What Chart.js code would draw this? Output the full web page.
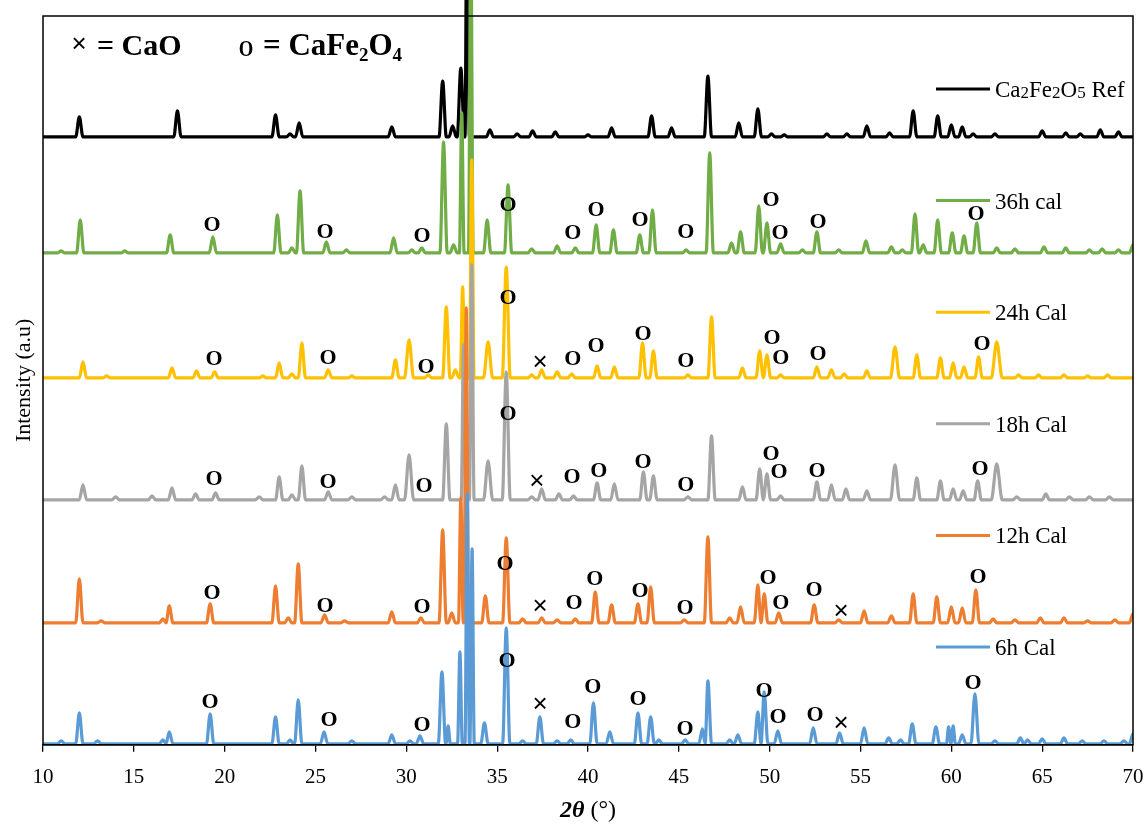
<!DOCTYPE html>
<html lang="en">
<head>
<meta charset="UTF-8">
<title>XRD patterns - calcination time series</title>
<style>
    html, body { margin: 0; padding: 0; background: #fff; }
    #wrap { width: 1148px; height: 826px; }
</style>
</head>
<body>
<div id="wrap"><canvas id="xrdChart" width="1148" height="826"></canvas></div>

<script src="https://cdn.jsdelivr.net/npm/chart.js@4.4.1/dist/chart.umd.min.js"></script>
<script>
    // 2theta axis
    var xMin = 10, xMax = 70, xStep = 5;
    var yMax = 729;

    var seriesNames = ['Ca\u2082Fe\u2082O\u2085 Ref', '36h cal', '24h Cal', '18h Cal', '12h Cal', '6h Cal'];
    var seriesColors = ['#000000', '#70AD47', '#FFC000', '#A5A5A5', '#ED7D31', '#5B9BD5'];
    // vertical offset of each pattern (stacked plot)
    var baselines = [608, 492, 367, 245, 122, 1];

    // peaks: [2theta, intensity above baseline, half width (optional)]
    var refPeaks = [[12.0,20],[17.4,26],[22.8,22],[23.6,3],[24.1,14],[29.2,10],[32.0,56],[32.55,11],[33.0,69],[33.35,300,0.12],
        [34.6,7],[36.1,3],[36.95,6],[38.2,5],[40.0,2],[41.3,9],[43.5,21],[44.6,9],[46.6,61],[48.3,14],[49.35,28],[50.1,3],
        [50.8,2],[53.15,3],[54.25,3],[55.35,11],[56.6,4],[57.9,26],[59.25,21],[60.0,12],[60.6,10],[61.2,3],[62.4,3],
        [65.0,6],[66.3,4],[67.1,3],[68.2,7],[69.2,5]];
    var peaks36h = [[11.0,2],[12.05,33],[14.5,2],[17.0,18],[19.35,16],[22.9,38],[23.7,5],[24.15,62],[25.6,11],[26.7,3],
        [29.3,15],[30.3,3],[30.85,5],[32.05,111],[32.6,8],[33.05,140,0.13],[33.55,320,0.13],[34.45,33],[35.6,68],[36.9,4],
        [38.3,7],[39.3,5],[40.45,28],[41.4,23],[42.85,18],[43.55,43],[45.4,3],[46.7,100],[47.9,10],[48.4,21],[49.4,47],
        [49.85,30],[50.6,9],[51.8,3],[52.6,21],[53.8,3],[55.3,12],[56.7,6],[57.3,3],[58.0,39],[58.45,8],[59.25,33],
        [60.05,20],[60.7,17],[61.4,30],[62.5,5],[63.5,4],[65.1,6],[66.3,5],[67.6,3],[68.3,4],[69.2,3],[70.0,8]];
    var peaks24h = [[12.2,16],[13.5,2],[17.1,10],[18.45,7],[19.45,6],[22.1,2],[23.0,15],[23.7,4],[24.25,35],[25.7,8],
        [27.0,2],[29.4,18],[30.15,38,0.25],[31.2,3],[32.2,71],[32.7,8],[33.1,91,0.13],[33.6,218,0.13],[34.5,36,0.25],
        [35.5,111,0.22],[36.9,3],[37.45,8],[38.3,6],[39.1,4],[40.5,12],[41.45,11],[43.0,35],[43.6,27],[45.5,3],
        [46.8,61],[48.5,10],[49.45,27],[49.85,23],[50.6,3],[52.6,11],[53.4,8],[54.1,4],[55.35,7],[56.9,31,0.25],
        [58.1,23],[59.4,20],[60.1,15],[60.7,11],[61.5,21],[62.5,36,0.3],[63.7,3],[64.8,3],[66.2,3],[67.5,2],[68.6,3]];
    var peaks18h = [[12.2,15],[14.0,3],[16.0,4],[17.1,12],[18.4,6],[19.5,7],[21.9,3],[23.0,23],[23.7,5],[24.25,34],
        [25.7,8],[27.0,3],[28.8,3],[29.4,15],[30.15,45,0.25],[32.2,76],[33.15,155,0.13],[33.6,235,0.13],[34.5,39,0.25],
        [35.5,128,0.22],[36.9,3],[37.45,11],[38.4,6],[39.2,4],[40.5,17],[41.45,16],[43.05,28],[43.6,24],[45.5,3],
        [46.8,64],[48.5,13],[49.45,31],[49.85,26],[50.6,4],[52.6,18],[53.4,15],[54.2,11],[55.35,9],[56.9,35,0.25],
        [58.1,22],[59.4,19],[60.1,11],[60.65,9],[61.45,19],[62.5,36,0.3],[63.6,3],[65.2,6],[66.5,3],[67.6,3],[68.7,3]];
    var peaks12h = [[12.0,44],[13.2,2],[16.6,4],[16.95,17],[19.2,19],[22.8,37],[23.5,5],[24.05,59],[25.5,8],[26.6,2],
        [29.2,11],[30.8,5],[32.0,93],[32.5,10],[33.0,125,0.13],[33.3,315,0.13],[34.35,27],[35.5,85],[36.4,4],[37.45,5],
        [38.3,3],[39.3,4],[40.4,31],[41.3,18],[42.75,19],[43.45,36],[45.3,3],[46.6,86],[47.8,5],[48.4,16],[49.35,38],
        [49.7,29],[50.5,10],[52.45,18],[53.8,3],[55.2,12],[56.7,7],[57.9,29],[59.2,26],[60.0,16],[60.6,15],[61.35,33],
        [62.3,4],[63.5,3],[64.9,5],[66.2,5],[67.5,2],[69.0,3],[70.0,9]];
    var peaks6h = [[11.0,3],[12.0,31],[13.0,3],[16.6,4],[16.95,12],[19.2,30],[22.8,27],[23.6,4],[24.05,44],[25.47,12],
        [27.0,3],[29.2,9],[30.2,3],[30.75,8],[31.96,72],[32.3,18,0.12],[32.95,92,0.13],[33.35,250,0.12],[33.62,195,0.12],
        [34.3,21],[35.5,116],[36.4,3],[37.35,27],[38.3,3],[39.05,4],[40.3,41],[41.2,12],[42.75,31],[43.45,27],[43.9,4],
        [45.35,4],[46.3,15],[46.6,63],[47.8,4],[48.25,9],[49.35,32],[49.7,52],[50.45,13],[52.4,16],[53.85,11],[55.2,16],
        [56.55,6],[57.2,4],[57.85,20],[59.15,17],[59.85,17,0.12],[60.1,18,0.12],[60.6,9],[61.3,50,0.22],[62.4,3],[63.8,6],
        [64.2,4],[65.0,5],[66.2,6],[67.2,3],[68.4,3],[69.5,3],[70.0,10]];
    var seriesPeaks = [refPeaks, peaks36h, peaks24h, peaks18h, peaks12h, peaks6h];

    // phase marks: [2theta, y, 'o' = CaFe2O4 / 'x' = CaO]
    var marks36h = [[19.30,521,'o'],[25.52,514,'o'],[30.86,510,'o'],[35.60,541,'o'],[39.17,513,'o'],[40.44,536,'o'],
        [42.86,526,'o'],[45.39,514,'o'],[50.07,546,'o'],[50.57,513,'o'],[52.66,524,'o'],[61.36,532,'o']];
    var marks24h = [[19.41,387,'o'],[25.69,388,'o'],[31.08,379,'o'],[35.60,448,'o'],[37.36,382,'x'],[39.17,387,'o'],
        [40.44,400,'o'],[43.03,412,'o'],[45.39,385,'o'],[50.13,408,'o'],[50.62,388,'o'],[52.66,392,'o'],[61.69,402,'o']];
    var marks18h = [[19.41,267,'o'],[25.69,264,'o'],[30.97,260,'o'],[35.60,332,'o'],[37.19,263,'x'],[39.12,269,'o'],
        [40.60,275,'o'],[43.03,284,'o'],[45.39,261,'o'],[50.07,292,'o'],[50.51,274,'o'],[52.61,275,'o'],[61.58,277,'o']];
    var marks12h = [[19.30,153,'o'],[25.52,140,'o'],[30.86,139,'o'],[35.43,182,'o'],[37.36,138,'x'],[39.23,143,'o'],
        [40.38,167,'o'],[42.86,155,'o'],[45.34,138,'o'],[49.91,168,'o'],[50.62,143,'o'],[52.44,156,'o'],[53.93,133,'x'],
        [61.47,169,'o']];
    var marks6h = [[19.19,43,'o'],[25.74,25,'o'],[30.86,20,'o'],[35.54,85,'o'],[37.36,40,'x'],[39.17,23,'o'],
        [40.27,59,'o'],[42.75,47,'o'],[45.34,16,'o'],[49.69,55,'o'],[50.46,28,'o'],[52.50,30,'o'],[53.93,21,'x'],
        [61.19,63,'o']];
    var allMarks = [marks36h, marks24h, marks18h, marks12h, marks6h];

    var keyItems = [['x', '= CaO'], ['o', '= CaFe\u2082O\u2084']];

    var SERIF = '"Liberation Serif", "Times New Roman", serif';
    var SANS = '"Liberation Sans", Arial, sans-serif';
    var SUBS = '\u2080\u2081\u2082\u2083\u2084\u2085\u2086\u2087\u2088\u2089';

    // turn a peak list into the points of one pattern line
    function buildLine(peaks, base) {
        var pts = [{x: xMin, y: base}];
        var prevX = xMin;
        peaks.forEach(function(p) {
            var w = p[2] || 0.2;
            var last = pts[pts.length - 1];
            if (last.x >= p[0] - w) {
                // neighbouring peaks overlap: one valley point between them
                last.x = (prevX + p[0]) / 2;
            } else {
                pts.push({x: p[0] - w, y: base});
            }
            pts.push({x: p[0], y: base + p[1]});
            pts.push({x: p[0] + w, y: base});
            prevX = p[0];
        });
        if (pts[pts.length - 1].x < xMax) pts.push({x: xMax, y: base});
        return pts;
    }

    // text with unicode subscript digits drawn as small lowered digits
    function richText(ctx, str, x, y, size, weight, subScale, drop) {
        var cx = x;
        for (var i = 0; i < str.length; i++) {
            var ch = str[i];
            var k = SUBS.indexOf(ch);
            if (k >= 0) {
                ctx.font = weight + ' ' + Math.round(size * subScale) + 'px ' + SERIF;
                ctx.fillText(String(k), cx, y + size * drop);
                cx += ctx.measureText(String(k)).width;
            } else {
                ctx.font = weight + ' ' + size + 'px ' + SERIF;
                ctx.fillText(ch, cx, y);
                cx += ctx.measureText(ch).width;
            }
        }
        return cx;
    }

    var overlay = {
        id: 'overlay',
        afterDatasetsDraw: function(chart) {
            var ctx = chart.ctx, a = chart.chartArea;
            var xs = chart.scales.x, ys = chart.scales.y;
            ctx.save();

            // frame
            ctx.strokeStyle = '#000';
            ctx.lineWidth = 1.5;
            ctx.strokeRect(a.left, a.top, a.right - a.left, a.bottom - a.top);

            // phase marks
            ctx.fillStyle = '#000';
            ctx.textAlign = 'center';
            ctx.textBaseline = 'middle';
            allMarks.forEach(function(row) {
                row.forEach(function(m) {
                    var px = xs.getPixelForValue(m[0]), py = ys.getPixelForValue(m[1]);
                    if (m[2] === 'x') {
                        ctx.font = '26px ' + SANS;
                        ctx.fillText('\u00d7', px, py);
                    } else {
                        ctx.font = 'bold 22px ' + SERIF;
                        ctx.fillText('O', px, py + 1);
                    }
                });
            });

            // series legend on the right
            ctx.textAlign = 'left';
            ctx.textBaseline = 'alphabetic';
            seriesNames.forEach(function(name, i) {
                var ly = 89 + i * 111.6;
                ctx.strokeStyle = seriesColors[i];
                ctx.lineWidth = 3;
                ctx.beginPath();
                ctx.moveTo(936, ly);
                ctx.lineTo(990, ly);
                ctx.stroke();
                ctx.fillStyle = '#000';
                richText(ctx, name, 995, ly + 8, 23, 'normal', 0.72, 0.04);
            });

            // phase key, top left
            ctx.textAlign = 'center';
            ctx.textBaseline = 'middle';
            ctx.font = '26px ' + SANS;
            ctx.fillText('\u00d7', 79, 45);
            ctx.save();
            ctx.translate(246, 50);
            ctx.scale(0.78, 1);
            ctx.font = 'bold 24px ' + SERIF;
            ctx.fillText('O', 0, 0);
            ctx.restore();
            ctx.textAlign = 'left';
            ctx.textBaseline = 'alphabetic';
            richText(ctx, keyItems[0][1], 97, 55, 30, 'bold', 0.62, 0.2);
            richText(ctx, keyItems[1][1], 263, 55, 31, 'bold', 0.62, 0.2);

            // y title
            ctx.save();
            ctx.translate(24, (a.top + a.bottom) / 2);
            ctx.rotate(-Math.PI / 2);
            ctx.textAlign = 'center';
            ctx.textBaseline = 'middle';
            ctx.font = '22px ' + SERIF;
            ctx.fillText('Intensity (a.u)', 0, 0);
            ctx.restore();

            // x title: bold italic 2θ then (°)
            ctx.textBaseline = 'alphabetic';
            ctx.font = 'bold italic 24px ' + SERIF;
            var w1 = ctx.measureText('2\u03b8').width;
            ctx.font = '24px ' + SERIF;
            var w2 = ctx.measureText(' (\u00b0)').width;
            var sx = (a.left + a.right) / 2 - (w1 + w2) / 2;
            ctx.font = 'bold italic 24px ' + SERIF;
            ctx.fillText('2\u03b8', sx, 817);
            ctx.font = '24px ' + SERIF;
            ctx.fillText(' (\u00b0)', sx + w1, 817);

            ctx.restore();
        }
    };

    var datasets = seriesNames.map(function(name, i) {
        return {
            label: name,
            data: buildLine(seriesPeaks[i], baselines[i]),
            borderColor: seriesColors[i],
            backgroundColor: seriesColors[i],
            borderWidth: 3.2,
            pointRadius: 0,
            fill: false,
            cubicInterpolationMode: 'monotone',
            order: seriesNames.length - i,
            clip: {left: 0, top: 16, right: 0, bottom: 3}
        };
    });

    Chart.defaults.font.family = SERIF;
    Chart.defaults.color = '#000';

    var ctx = document.getElementById('xrdChart').getContext('2d');
    var xrdChart = new Chart(ctx, {
        type: 'line',
        data: { datasets: datasets },
        options: {
            responsive: false,
            animation: false,
            layout: { padding: { left: 43, right: 15, top: 16, bottom: 23 } },
            plugins: { legend: { display: false }, tooltip: { enabled: false } },
            scales: {
                x: {
                    type: 'linear',
                    min: xMin,
                    max: xMax,
                    ticks: { stepSize: xStep, color: '#000', font: { size: 21 }, padding: 13, maxRotation: 0, autoSkip: false },
                    grid: { drawOnChartArea: false, drawTicks: true, tickLength: 7, color: '#000', lineWidth: 1.3 },
                    border: { display: true, color: '#000', width: 1.5 },
                    // last label only needs its half width on the right
                    afterFit: function(scale) { scale.paddingRight = 11; scale.paddingLeft = 11; }
                },
                y: { min: 0, max: yMax, display: false }
            }
        },
        plugins: [overlay]
    });
</script>
</body>
</html>
